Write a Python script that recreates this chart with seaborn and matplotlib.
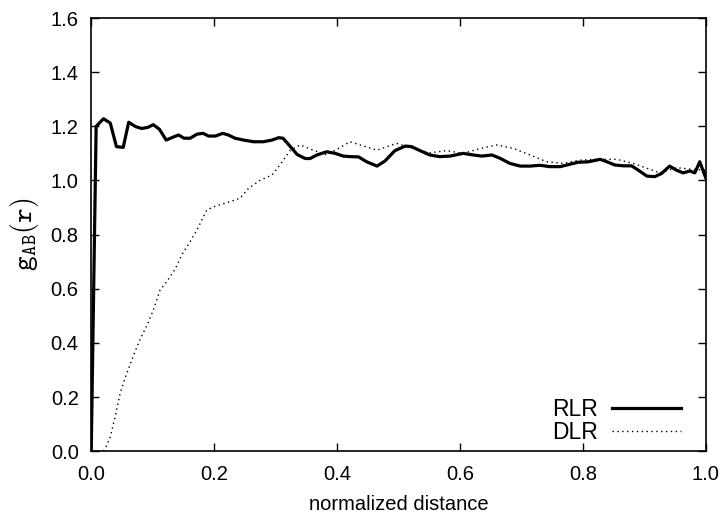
import numpy as np
import pandas as pd
import seaborn as sns
import matplotlib.pyplot as plt

# RLR (solid line)
rlr_x = [0.0, 0.008, 0.020, 0.031, 0.041, 0.052, 0.061, 0.072, 0.082, 0.092, 0.101,
         0.111, 0.122, 0.131, 0.142, 0.151, 0.161, 0.172, 0.182, 0.191, 0.202, 0.214,
         0.223, 0.234, 0.248, 0.264, 0.280, 0.294, 0.305, 0.312, 0.324, 0.335, 0.348,
         0.356, 0.367, 0.383, 0.397, 0.410, 0.421, 0.435, 0.448, 0.465, 0.478, 0.494,
         0.511, 0.521, 0.535, 0.551, 0.567, 0.584, 0.605, 0.622, 0.635, 0.652, 0.665,
         0.681, 0.698, 0.714, 0.730, 0.746, 0.763, 0.779, 0.792, 0.809, 0.828, 0.839,
         0.852, 0.866, 0.879, 0.890, 0.904, 0.917, 0.928, 0.941, 0.952, 0.963, 0.974,
         0.982, 0.990, 1.0]
rlr_y = [0.0, 1.20, 1.228, 1.212, 1.125, 1.122, 1.215, 1.199, 1.192, 1.196, 1.206,
         1.189, 1.149, 1.158, 1.168, 1.156, 1.156, 1.171, 1.174, 1.164, 1.164, 1.174,
         1.168, 1.156, 1.149, 1.143, 1.143, 1.149, 1.158, 1.156, 1.125, 1.096, 1.081,
         1.081, 1.094, 1.106, 1.100, 1.090, 1.088, 1.087, 1.069, 1.053, 1.072, 1.110,
         1.127, 1.125, 1.110, 1.094, 1.088, 1.090, 1.100, 1.094, 1.090, 1.094, 1.082,
         1.063, 1.053, 1.053, 1.056, 1.051, 1.051, 1.060, 1.067, 1.069, 1.078, 1.069,
         1.057, 1.054, 1.054, 1.038, 1.016, 1.014, 1.026, 1.053, 1.038, 1.028, 1.035,
         1.028, 1.069, 1.008]

# DLR (dotted line)
dlr_x = [0.020, 0.023, 0.031, 0.039, 0.047, 0.053, 0.061, 0.069, 0.080, 0.091, 0.101,
         0.112, 0.123, 0.137, 0.150, 0.156, 0.172, 0.188, 0.202, 0.221, 0.242, 0.256,
         0.275, 0.294, 0.307, 0.324, 0.340, 0.361, 0.383, 0.405, 0.421, 0.443, 0.465,
         0.497, 0.524, 0.551, 0.578, 0.605, 0.633, 0.660, 0.687, 0.714, 0.741, 0.768,
         0.795, 0.822, 0.855, 0.882, 0.904, 0.925, 0.952, 0.979, 1.0]
dlr_y = [0.0, 0.01, 0.053, 0.127, 0.213, 0.256, 0.306, 0.355, 0.416, 0.466, 0.521,
         0.595, 0.626, 0.675, 0.737, 0.755, 0.817, 0.891, 0.905, 0.918, 0.934, 0.971,
         1.001, 1.020, 1.057, 1.112, 1.131, 1.112, 1.094, 1.122, 1.143, 1.127, 1.112,
         1.137, 1.118, 1.102, 1.110, 1.100, 1.118, 1.131, 1.118, 1.094, 1.069, 1.063,
         1.075, 1.078, 1.078, 1.063, 1.045, 1.028, 1.047, 1.041, 1.038]

ticks_x = [0.0, 0.2, 0.4, 0.6, 0.8, 1.0]
ticks_y = [0.0, 0.2, 0.4, 0.6, 0.8, 1.0, 1.2, 1.4, 1.6]

plt.rcParams['font.family'] = ['Liberation Sans', 'DejaVu Sans']
plt.rcParams['mathtext.fontset'] = 'cm'

fig, ax = plt.subplots(figsize=(7.24, 5.15), dpi=100)
fig.subplots_adjust(left=0.126, right=0.975, top=0.965, bottom=0.124)

sns.lineplot(x=rlr_x, y=rlr_y, ax=ax, color='black', linewidth=2.3, label='RLR', sort=False)
sns.lineplot(x=dlr_x, y=dlr_y, ax=ax, color='black', linewidth=1.0, linestyle=(0, (1, 2.5)),
             label='DLR', sort=False)

ax.set_xlim(0, 1)
ax.set_ylim(0, 1.6)
ax.set_xticks(ticks_x)
ax.set_yticks(ticks_y)
ax.set_xticklabels([f'{v:.1f}' for v in ticks_x])
ax.set_yticklabels([f'{v:.1f}' for v in ticks_y])
ax.tick_params(direction='in', top=True, right=True, length=6, width=1, labelsize=14.5)
ax.tick_params(axis='x', pad=10)
ax.tick_params(axis='y', pad=9)
for s in ax.spines.values():
    s.set_linewidth(1.2)

ax.set_xlabel('normalized distance', fontsize=14.5, labelpad=8)
ax.set_ylabel(r'$\mathtt{g_{AB}(r)}$', fontsize=20, labelpad=7)

ax.legend(loc='lower right', frameon=False, markerfirst=False, fontsize=16.5,
          handlelength=3.0, labelspacing=0.0, borderaxespad=0.1, handletextpad=0.6,
          borderpad=0.2, bbox_to_anchor=(0.97, 0.0))

fig.savefig('out.png', dpi=100)
